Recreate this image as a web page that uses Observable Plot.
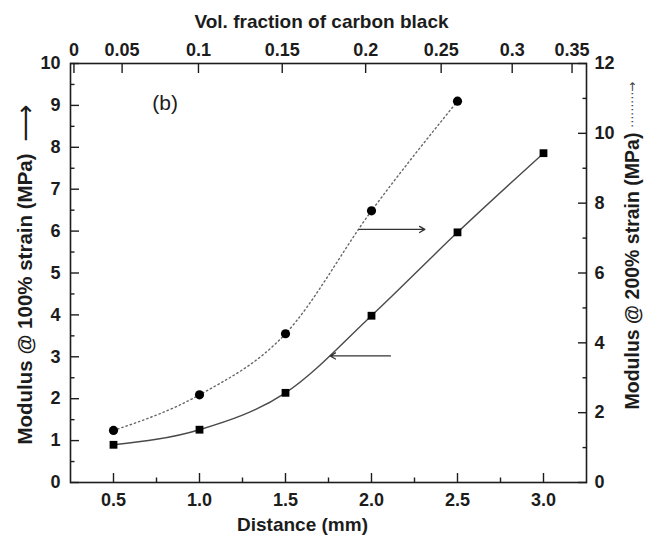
<!DOCTYPE html>
<html>
<head>
<meta charset="utf-8">
<script src="https://cdn.jsdelivr.net/npm/d3@7"></script>
<script src="https://cdn.jsdelivr.net/npm/@observablehq/plot@0.6"></script>
<style>
  html, body { margin: 0; padding: 0; background: #fff; }
  #chart { width: 648px; height: 537px; }
</style>
</head>
<body>
<div id="chart"></div>
<script>
// Modulus @ 100% strain (left axis, squares)
const distance100 = [0.5, 1.0, 1.5, 2.0, 2.5, 3.0];
const modulus100 = [0.90, 1.26, 2.14, 3.98, 5.97, 7.86];
// Modulus @ 200% strain (right axis, circles)
const distance200 = [0.5, 1.0, 1.5, 2.0, 2.5];
const modulus200 = [1.49, 2.51, 4.26, 7.78, 10.92];
// Top axis: volume fraction of carbon black (non-linear against distance)
const topTickLabels = ["0", "0.05", "0.1", "0.15", "0.2", "0.25", "0.3", "0.35"];
const topTickDistance = [0.27, 0.55, 0.994, 1.481, 1.966, 2.405, 2.818, 3.166];
// Bottom and side axis ticks
const bottomTicks = [0.5, 1.0, 1.5, 2.0, 2.5, 3.0];
const bottomMinor = [0.75, 1.25, 1.75, 2.25, 2.75];
const leftTicks = [0, 1, 2, 3, 4, 5, 6, 7, 8, 9, 10];
const leftMinor = [0.5, 1.5, 2.5, 3.5, 4.5, 5.5, 6.5, 7.5, 8.5, 9.5];
const rightTicks = [0, 2, 4, 6, 8, 10, 12];
const rightMinor = [1, 3, 5, 7, 9, 11];
// Pointer arrows (which curve belongs to which axis)
const arrowFrom = [1.93, 2.11];
const arrowTo = [2.31, 1.76];
const arrowLevel = [6.04, 3.02];
const panelLabel = ["(b)"];
const panelX = [0.80];
const panelY = [9.05];

const leftMax = 10, rightMax = 12;
const toLeft = v => v * leftMax / rightMax;

const sq = distance100.map((d, i) => ({d, m: modulus100[i]}));
const ci = distance200.map((d, i) => ({d, m: toLeft(modulus200[i])}));
const arrows = arrowFrom.map((x1, i) => ({x1, x2: arrowTo[i], y: arrowLevel[i]}));
const panel = panelLabel.map((t, i) => ({t, x: panelX[i], y: panelY[i]}));

const ink = "#1c1c1c";

const chart = Plot.plot({
  width: 648,
  height: 537,
  marginLeft: 70,
  marginRight: 62,
  marginTop: 63,
  marginBottom: 55,
  x: {domain: [0.25, 3.25]},
  y: {domain: [0, leftMax]},
  style: {
    fontFamily: "'Liberation Sans', Arial, sans-serif",
    fontSize: "18px",
    fontWeight: "bold",
    color: ink,
    background: "#fff",
    overflow: "visible"
  },
  marks: [
    // bottom axis
    Plot.axisX(bottomTicks, {anchor: "bottom", tickSize: -9, tickPadding: 20, tickFormat: d => d.toFixed(1), label: null, stroke: ink, strokeWidth: 1.4}),
    Plot.axisX(bottomMinor, {anchor: "bottom", tickSize: -4.5, tickFormat: () => "", label: null, stroke: ink, strokeWidth: 1.4}),
    // top axis (vol. fraction)
    Plot.axisX(topTickDistance, {anchor: "top", tickSize: -9, tickPadding: 17, tickFormat: d => topTickLabels[topTickDistance.indexOf(d)], label: null, stroke: ink, strokeWidth: 1.4}),
    // left axis
    Plot.axisY(leftTicks, {anchor: "left", tickSize: -9, tickPadding: 19, tickFormat: d => String(d), label: null, stroke: ink, strokeWidth: 1.4}),
    Plot.axisY(leftMinor, {anchor: "left", tickSize: -4.5, tickFormat: () => "", label: null, stroke: ink, strokeWidth: 1.4}),
    // right axis (200% strain)
    Plot.axisY(rightTicks.map(toLeft), {anchor: "right", tickSize: -9, tickPadding: 17, tickFormat: d => String(Math.round(d * rightMax / leftMax)), label: null, stroke: ink, strokeWidth: 1.4}),
    Plot.axisY(rightMinor.map(toLeft), {anchor: "right", tickSize: -4.5, tickFormat: () => "", label: null, stroke: ink, strokeWidth: 1.4}),
    Plot.frame({stroke: ink, strokeWidth: 1.6}),
    // axis titles
    Plot.text(["Vol. fraction of carbon black"], {frameAnchor: "top", dy: -36, dx: -7, lineAnchor: "bottom", fontSize: 19, fontWeight: "bold", fill: ink}),
    Plot.text(["Distance (mm)"], {frameAnchor: "bottom", dy: 48, dx: -26, lineAnchor: "bottom", fontSize: 19, fontWeight: "bold", fill: ink}),
    Plot.text(["Modulus @ 100% strain (MPa)"], {frameAnchor: "left", textAnchor: "middle", dx: -45, dy: 26, rotate: -90, fontSize: 20.5, fontWeight: "bold", fill: ink}),
    Plot.text(["\u27F6"], {frameAnchor: "left", textAnchor: "middle", dx: -45, dy: -150, rotate: -90, fontSize: 26, fontWeight: "normal", fontFamily: "DejaVu Sans", fill: ink}),
    Plot.text(["Modulus @ 200% strain (MPa)"], {frameAnchor: "right", textAnchor: "middle", dx: 46, dy: -2, rotate: -90, fontSize: 19.5, fontWeight: "bold", fill: ink}),
    Plot.text(["\u22EF\u22EF\u22EF\u2192"], {frameAnchor: "right", textAnchor: "middle", dx: 46, dy: -168, rotate: -90, fontSize: 12, fontWeight: "normal", fontFamily: "DejaVu Sans", fill: "#444"}),
    // curves
    Plot.line(sq, {x: "d", y: "m", curve: "monotone-x", stroke: "#4a4a4a", strokeWidth: 1.4}),
    Plot.line(ci, {x: "d", y: "m", curve: "monotone-x", stroke: "#666", strokeWidth: 1.4, strokeDasharray: "1.4,3"}),
    // markers
    Plot.dot(sq, {x: "d", y: "m", symbol: "square", r: 4.4, fill: "#000", stroke: "none"}),
    Plot.dot(ci, {x: "d", y: "m", symbol: "circle", r: 4.6, fill: "#000", stroke: "none"}),
    // pointer arrows
    Plot.arrow(arrows, {x1: "x1", x2: "x2", y1: "y", y2: "y", stroke: "#333", strokeWidth: 1.3, headLength: 7, bend: 0}),
    // panel label
    Plot.text(panel, {x: "x", y: "y", text: "t", fontSize: 21, fontWeight: "normal", fill: ink})
  ]
});

document.getElementById("chart").appendChild(chart);
</script>
</body>
</html>
